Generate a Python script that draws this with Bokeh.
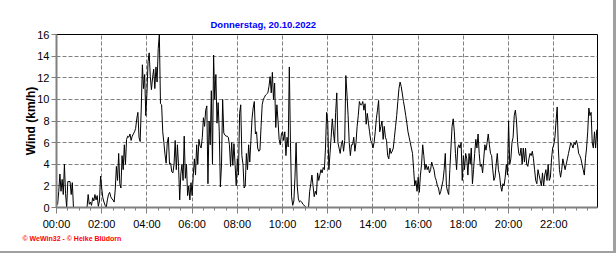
from bokeh.plotting import figure
from bokeh.models import FixedTicker, Title, Range1d, ColumnDataSource
from bokeh.embed import file_html
from bokeh.resources import INLINE

title_text = "Donnerstag, 20.10.2022"
y_label = "Wind (km/h)"
credit = "\u00a9 WeWin32 - \u00a9 Heike Bl\u00fcdorn"

hour_ticks = [0, 2, 4, 6, 8, 10, 12, 14, 16, 18, 20, 22]
hour_labels = ["00:00", "02:00", "04:00", "06:00", "08:00", "10:00",
               "12:00", "14:00", "16:00", "18:00", "20:00", "22:00"]
y_ticks = [0, 2, 4, 6, 8, 10, 12, 14, 16]
step_minutes = 3

wind_00_06 = [0.2, 0.3, 1.5, 3.1, 1.5, 2.6, 1.2, 4.0, 1.3, 0.0,
              2.4, 2.4, 2.4, 1.2, 2.3, 0.0, 0.0, 0.0, 0.0, 0.0,
              0.0, 0.0, 0.0, 0.0, 0.0, 0.0, 0.0, 0.0, 1.2, 0.3,
              0.5, 0.2, 0.9, 0.6, 1.2, 0.7, 1.1, 0.1, 0.6, 2.9,
              1.8, 0.9, 0.5, 0.2, 0.0, 0.7, 1.2, 1.4, 1.0, 0.8,
              0.7, 0.5, 1.7, 3.8, 2.5, 5.0, 2.2, 1.8, 4.8, 3.5,
              5.8, 4.0, 6.3, 6.6, 6.5, 6.8, 6.2, 6.6, 6.8, 7.0,
              7.3, 8.2, 8.8, 6.5, 6.1, 9.2, 13.2, 11.0, 12.3, 8.5,
              10.5, 13.5, 14.3, 12.1, 10.9, 12.0, 12.8, 11.0, 13.0, 11.6,
              14.7, 16.0, 9.6, 9.5, 7.0, 6.0, 4.9, 4.1, 6.0, 6.5,
              4.0, 4.1, 3.3, 3.2, 4.0, 6.2, 3.5, 5.8, 3.8, 0.7,
              3.1, 4.0, 2.5, 6.6, 2.7, 4.0, 1.1, 2.0, 0.7, 2.3]

wind_06_12 = [1.1, 3.0, 4.5, 3.0, 5.8, 4.0, 6.3, 5.7, 5.5, 6.5,
              8.3, 7.5, 9.0, 9.4, 2.2, 8.0, 5.8, 10.8, 4.0, 14.1,
              10.0, 12.3, 7.8, 9.7, 7.0, 1.9, 4.0, 10.0, 6.9, 6.7,
              6.6, 6.6, 6.5, 5.8, 3.8, 6.0, 3.9, 5.9, 4.0, 2.0,
              4.5, 3.0, 8.7, 9.5, 4.8, 4.0, 1.8, 2.0, 5.0, 3.5,
              5.8, 4.2, 6.2, 8.2, 9.2, 9.8, 6.8, 7.0, 5.5, 5.2,
              5.3, 7.5, 9.5, 10.0, 10.2, 10.4, 10.5, 10.6, 11.2, 12.1,
              10.6, 12.5, 10.0, 11.5, 7.4, 9.5, 8.0, 6.3, 5.8, 6.8,
              7.0, 6.2, 7.0, 4.8, 6.5, 5.6, 13.0, 6.0, 1.0, 0.2,
              0.6, 2.8, 6.0, 2.0, 0.8, 0.5, 0.6, 0.5, 0.3, 0.2,
              0.1, 0.0, 0.0, 0.0, 1.5, 2.2, 3.0, 2.0, 1.0, 1.5,
              1.2, 3.2, 2.5, 3.0, 3.5, 3.2, 3.7, 3.5, 5.5, 8.8]

wind_12_18 = [7.9, 3.5, 5.0, 6.5, 8.2, 7.0, 6.0, 8.8, 10.6, 6.0,
              5.5, 5.0, 5.8, 6.2, 5.2, 6.2, 12.2, 10.5, 8.5, 6.0,
              4.8, 5.8, 5.8, 6.5, 5.2, 6.0, 7.5, 8.5, 9.8, 9.5,
              9.5, 9.8, 9.0, 9.6, 7.7, 8.7, 7.8, 7.0, 6.2, 6.0,
              5.5, 6.0, 7.0, 8.2, 9.0, 9.9, 7.0, 7.5, 8.0, 6.3,
              7.5, 6.5, 6.2, 4.8, 4.5, 5.5, 5.0, 5.2, 5.5, 6.5,
              7.5, 8.5, 9.8, 11.0, 11.6, 11.2, 10.5, 9.8, 9.2, 8.5,
              7.8, 7.0, 6.5, 6.0, 5.5, 5.0, 3.5, 2.0, 2.5, 1.5,
              2.8, 1.4, 3.0, 4.0, 5.8, 4.8, 3.5, 4.0, 3.5, 3.8,
              3.2, 3.5, 4.2, 3.8, 3.5, 2.8, 2.5, 2.0, 1.8, 1.2,
              1.5, 2.0, 2.5, 3.5, 5.0, 2.0, 1.5, 1.2, 3.5, 5.5,
              7.5, 8.2, 7.0, 5.0, 3.5, 5.5, 5.8, 5.5, 6.0, 2.5]

wind_18_24 = [4.8, 3.5, 5.0, 4.5, 3.0, 5.0, 4.0, 5.5, 2.2, 3.5,
              5.0, 6.3, 5.5, 6.8, 5.0, 3.8, 4.0, 3.2, 4.5, 5.8,
              5.3, 6.0, 6.8, 5.8, 5.0, 4.8, 3.5, 2.5, 2.8, 4.0,
              5.0, 3.5, 3.0, 2.0, 1.5, 2.2, 2.0, 2.8, 4.0, 3.0,
              8.0, 4.0, 4.5, 6.0, 6.5, 8.5, 9.0, 8.0, 6.0, 5.0,
              4.8, 5.5, 4.0, 5.5, 4.2, 5.5, 4.0, 3.8, 4.5, 5.0,
              4.8, 5.2, 4.5, 3.5, 2.5, 2.2, 3.5, 3.0, 2.5, 2.0,
              3.2, 2.0, 3.0, 3.5, 2.5, 4.0, 2.5, 2.8, 4.5, 5.5,
              5.8, 6.5, 8.0, 9.3, 5.5, 3.5, 2.8, 3.5, 4.5, 4.0,
              3.5, 4.0, 4.5, 5.0, 5.5, 6.0, 5.8, 5.5, 6.0, 5.8,
              6.2, 5.8, 5.0, 4.8, 4.5, 4.0, 3.5, 3.0, 4.5, 5.5,
              7.0, 9.2, 8.5, 8.8, 6.0, 5.5, 7.0, 5.5, 7.2]

wind = wind_00_06 + wind_06_12 + wind_12_18 + wind_18_24
hours = [i * step_minutes / 60.0 for i in range(len(wind))]
x_end = (len(wind) * step_minutes - 1) / 60.0

src = ColumnDataSource(data=dict(t=hours, v=wind))

FONT = "Liberation Sans"
GREY = "#808080"

p = figure(width=616, height=253, output_backend="svg", toolbar_location=None,
           x_range=Range1d(0, x_end), y_range=Range1d(0, 16),
           min_border_left=56, min_border_right=19, min_border_top=34,
           min_border_bottom=46)

p.background_fill_color = "white"
p.border_fill_color = None
p.outline_line_color = "black"
p.outline_line_width = 1
p.styles = {"background-color": "white",
            "box-shadow": "inset -3px -2px 0 0 #a0a0a0"}

p.line("t", "v", source=src, line_color="black", line_width=1)

p.xaxis.ticker = FixedTicker(ticks=hour_ticks,
                             minor_ticks=[h / 2.0 for h in range(48)])
p.xaxis.major_label_overrides = {h: lbl for h, lbl in zip(hour_ticks, hour_labels)}
p.yaxis.ticker = FixedTicker(ticks=y_ticks, minor_ticks=[])

for ax in (p.xaxis[0], p.yaxis[0]):
    ax.axis_line_color = GREY
    ax.axis_line_width = 2
    ax.major_tick_line_color = GREY
    ax.minor_tick_line_color = GREY
    ax.major_tick_in = 0
    ax.minor_tick_in = 0
    ax.major_label_text_font = FONT
    ax.major_label_text_font_size = "11px"
    ax.major_label_text_color = "black"

p.xaxis.major_tick_out = 6
p.xaxis.minor_tick_out = 3
p.xaxis.major_label_standoff = 4
p.yaxis.major_tick_out = 5
p.yaxis.major_label_standoff = 2

p.yaxis.axis_label = y_label
p.yaxis.axis_label_text_font = FONT
p.yaxis.axis_label_text_font_style = "bold"
p.yaxis.axis_label_text_font_size = "12px"
p.yaxis.axis_label_text_color = "black"
p.yaxis.axis_label_standoff = -4

for g in (p.xgrid[0], p.ygrid[0]):
    g.grid_line_color = GREY
    g.grid_line_dash = "4 2"
    g.grid_line_width = 1

# thin spacer panel between frame and title
p.add_layout(Title(text=" ", text_font_size="3px", standoff=0,
                   text_color="white"), "above")
p.add_layout(Title(text=title_text, align="left", offset=154, standoff=0,
                   text_font=FONT, text_font_style="bold", text_font_size="9.5px",
                   text_color="#0000ff"), "above")
p.add_layout(Title(text=credit, align="left", offset=-34, standoff=0,
                   text_font=FONT, text_font_style="bold", text_font_size="7px",
                   text_color="#ff0000"), "below")

open("out.html", "w").write(file_html(p, INLINE))
